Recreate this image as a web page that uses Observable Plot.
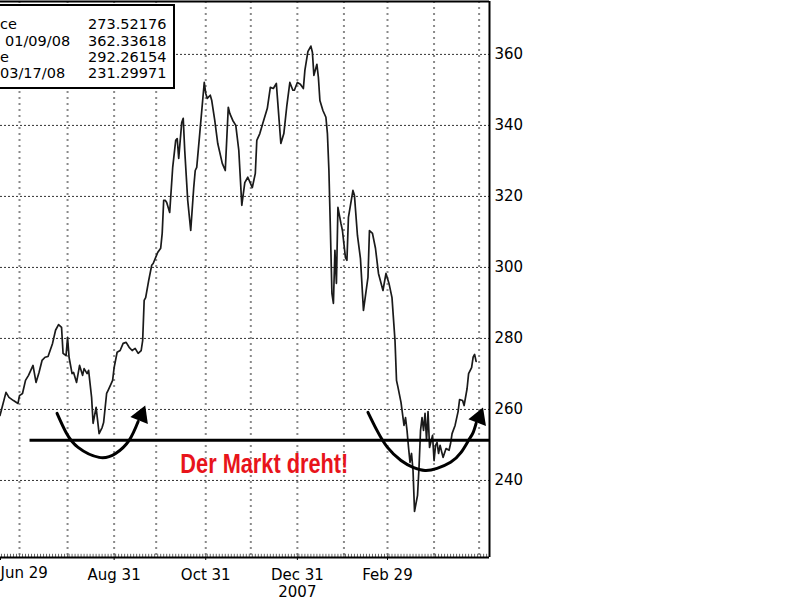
<!DOCTYPE html>
<html><head><meta charset="utf-8">
<script src="https://cdn.jsdelivr.net/npm/d3@7"></script>
<script src="https://cdn.jsdelivr.net/npm/@observablehq/plot@0.6"></script>
<style>
html,body{margin:0;padding:0;background:#fff;overflow:hidden;width:800px;height:600px;}
#chart{position:absolute;left:0;top:0;}
#legend{position:absolute;left:-6px;top:4px;width:181px;height:85px;box-sizing:border-box;border:2px solid #000;background:#fff;font-family:"DejaVu Sans",sans-serif;font-size:14.5px;color:#000;}
#legend span{position:absolute;line-height:1;white-space:nowrap;}
</style></head><body>
<div id="chart"></div>
<div id="legend"></div>
<script>
// ---- data ----
const dates = [
"2007-06-16","2007-06-20","2007-06-22","2007-06-25","2007-06-28","2007-06-29","2007-07-01","2007-07-03","2007-07-05","2007-07-08",
"2007-07-10","2007-07-12","2007-07-14","2007-07-16","2007-07-18","2007-07-21","2007-07-23","2007-07-25","2007-07-27","2007-07-28",
"2007-07-30","2007-07-31","2007-08-01","2007-08-03","2007-08-04","2007-08-06","2007-08-08","2007-08-10","2007-08-11","2007-08-13",
"2007-08-14","2007-08-16","2007-08-17","2007-08-19","2007-08-20","2007-08-21","2007-08-23","2007-08-24","2007-08-26","2007-08-27",
"2007-08-30","2007-08-31","2007-09-02","2007-09-04","2007-09-06","2007-09-08","2007-09-10","2007-09-12","2007-09-14","2007-09-16",
"2007-09-18","2007-09-19","2007-09-20","2007-09-21","2007-09-23","2007-09-25","2007-09-26","2007-09-29","2007-10-01","2007-10-02",
"2007-10-03","2007-10-04","2007-10-05","2007-10-07","2007-10-09","2007-10-11","2007-10-12","2007-10-13","2007-10-15","2007-10-16",
"2007-10-17","2007-10-19","2007-10-21","2007-10-23","2007-10-24","2007-10-25","2007-10-27","2007-10-30","2007-10-31","2007-11-01",
"2007-11-03","2007-11-04","2007-11-06","2007-11-08","2007-11-11","2007-11-13","2007-11-15","2007-11-16","2007-11-18","2007-11-20",
"2007-11-22","2007-11-24","2007-11-26","2007-11-28","2007-12-01","2007-12-03","2007-12-04","2007-12-06","2007-12-08","2007-12-11",
"2007-12-13","2007-12-15","2007-12-17","2007-12-18","2007-12-20","2007-12-22","2007-12-24","2007-12-26","2007-12-28","2007-12-29",
"2007-12-31","2008-01-02","2008-01-04","2008-01-05","2008-01-07","2008-01-09","2008-01-10","2008-01-11","2008-01-13","2008-01-14",
"2008-01-15","2008-01-17","2008-01-19","2008-01-20","2008-01-21","2008-01-22","2008-01-23","2008-01-24","2008-01-25","2008-01-26",
"2008-01-27","2008-01-29","2008-01-30","2008-02-01","2008-02-02","2008-02-03","2008-02-06","2008-02-07","2008-02-09","2008-02-11",
"2008-02-13","2008-02-16","2008-02-17","2008-02-19","2008-02-21","2008-02-23","2008-02-26","2008-02-28","2008-03-01","2008-03-03",
"2008-03-05","2008-03-06","2008-03-07","2008-03-09","2008-03-11","2008-03-12","2008-03-13","2008-03-14","2008-03-15","2008-03-16",
"2008-03-17","2008-03-18","2008-03-20","2008-03-21","2008-03-22","2008-03-23","2008-03-24","2008-03-25","2008-03-26","2008-03-27",
"2008-03-28","2008-03-30","2008-03-31","2008-04-01","2008-04-02","2008-04-03","2008-04-04","2008-04-06","2008-04-08","2008-04-10",
"2008-04-11","2008-04-12","2008-04-14","2008-04-16","2008-04-17","2008-04-19","2008-04-20","2008-04-22","2008-04-23","2008-04-25",
"2008-04-26","2008-04-27","2008-04-28"
];
const prices = [
258.3,264.8,263.4,262.5,261.7,263.9,264.5,268.2,269.6,272.4,
267.6,270.4,273.8,274.7,274.9,278.6,282.3,283.9,283.1,275.8,
275.2,280.3,274.7,270.1,270.4,267.6,272.4,269.6,271.5,270.1,
271.0,263.4,256.1,260.6,256.9,253.2,254.9,256.3,264.5,265.4,
268.2,271.8,276.1,276.6,278.6,278.9,277.5,276.6,277.2,275.8,
276.6,279.4,290.7,291.5,296.3,300.6,301.1,304.2,305.4,309.6,
318.9,318.9,318.3,315.5,328.2,335.8,336.3,330.7,340.8,342.0,
333.0,318.9,310.4,322.5,327.3,328.2,337.7,352.1,349.0,347.6,
348.5,347.0,341.4,334.9,329.3,327.3,345.1,343.4,341.4,340.0,
333.0,317.5,323.9,325.4,322.5,326.5,335.8,337.7,340.6,344.8,
350.7,350.4,351.8,346.2,334.9,337.7,345.6,352.1,349.9,349.9,
352.1,351.6,350.4,355.5,360.8,362.34,360.6,354.1,357.2,353.5,
347.0,344.2,342.3,337.7,327.3,310.4,292.7,289.9,304.8,295.5,
316.9,312.4,310.4,302.8,302.0,314.1,321.7,320.3,309.0,302.5,
287.9,297.2,310.4,309.6,305.4,298.3,293.5,298.3,295.5,291.5,
279.4,268.2,266.2,262.0,255.5,257.7,254.1,249.3,245.1,247.6,
242.8,231.3,235.8,243.7,254.1,257.7,254.1,258.9,251.3,259.4,
249.3,252.7,245.6,249.9,250.7,247.6,249.9,246.5,249.0,248.5,
250.4,253.2,255.5,259.4,262.8,262.5,261.1,265.9,270.1,271.8,
274.7,275.5,273.52
];
const yTicks = [240, 260, 280, 300, 320, 340, 360];
const monthTicks = ["2007-06-29","2007-07-31","2007-08-31","2007-09-28","2007-10-31","2007-11-30","2007-12-31","2008-01-31","2008-02-29","2008-03-31","2008-04-30"];
const labeledTicks = ["2007-08-31","2007-10-31","2007-12-31","2008-02-29"];
const edgeTick = ["2007-06-29"];
const legendLabels = ["ce", "01/09/08", "e", "03/17/08"];
const legendValues = ["273.52176", "362.33618", "292.26154", "231.29971"];
// annotations (data units)
const supportLevel = 251.3;
const supportStart = "2007-07-06";
const leftArcDates = ["2007-07-24","2007-07-30","2007-08-07","2007-08-21","2007-09-01","2007-09-10","2007-09-16"];
const leftArcValues = [258.9, 253.5, 249.3, 246.5, 247.6, 251.3, 256.6];
const rightArcDates = ["2008-02-16","2008-02-22","2008-02-29","2008-03-09","2008-03-17","2008-03-25","2008-04-02","2008-04-11","2008-04-18","2008-04-23","2008-04-26","2008-04-28"];
const rightArcValues = [259.2, 254.1, 249.3, 245.6, 243.7, 242.8, 243.4, 245.1, 247.9, 251.3, 253.5, 256.1];
const arrowDates = ["2007-09-18", "2008-04-30"];
const arrowValues = [258.3, 257.7];
const arrowAngles = [22, 21];
const annotationText = "Der Markt dreht!";
const annotationDate = "2007-12-09";
const annotationValue = 244.6;
const xStart = "2007-06-16T08:24Z";
const xEnd = "2008-05-06T22:00Z";
const yMin = 218.3, yMax = 374.9;

// ---- build ----
const parse = d3.utcParse("%Y-%m-%d");
const data = dates.map((d, i) => ({date: parse(d), price: prices[i]}));
const xDomain = [new Date(xStart), new Date(xEnd)];
const yDomain = [yMin, yMax];
const monthDates = monthTicks.map(parse);
const labelDates = labeledTicks.map(parse);
const minorTicks = d3.utcDay.every(2).range(xDomain[0], xDomain[1]);
const fmt = d3.utcFormat("%b %d");
const tickFmt = d => d.getUTCMonth() === 11 ? fmt(d) + "\n" + d.getUTCFullYear() : fmt(d);
const leftArc = leftArcDates.map((d, i) => ({date: parse(d), value: leftArcValues[i]}));
const rightArc = rightArcDates.map((d, i) => ({date: parse(d), value: rightArcValues[i]}));
const arrows = arrowDates.map((d, i) => ({date: parse(d), value: arrowValues[i], angle: arrowAngles[i]}));
const support = [{y: supportLevel, x1: parse(supportStart), x2: xDomain[1]}];

const chart = Plot.plot({
  width: 800, height: 600,
  marginLeft: 0, marginRight: 311, marginTop: 1, marginBottom: 43,
  style: {fontFamily: "DejaVu Sans, sans-serif", fontSize: "15px", background: "#fff", color: "#000"},
  x: {type: "utc", domain: xDomain},
  y: {domain: yDomain},
  marks: [
    Plot.ruleY(yTicks, {stroke: "#333", strokeDasharray: "2,2", strokeWidth: 1}),
    Plot.ruleX(monthDates, {stroke: "#8a8a8a", strokeDasharray: "2,4", strokeWidth: 2}),
    Plot.ruleX(minorTicks, {y1: yMin, y2: yMin + 0.9, stroke: "#666", strokeWidth: 1}),
    Plot.line(data, {x: "date", y: "price", stroke: "#1a1a1a", strokeWidth: 1.7}),
    Plot.ruleY(support, {y: "y", x1: "x1", x2: "x2", stroke: "#000", strokeWidth: 3}),
    Plot.line(leftArc, {x: "date", y: "value", curve: "natural", stroke: "#000", strokeWidth: 3}),
    Plot.line(rightArc, {x: "date", y: "value", curve: "natural", stroke: "#000", strokeWidth: 3}),
    Plot.dot(arrows, {x: "date", y: "value", rotate: "angle", symbol: "triangle", r: 7, fill: "#000"}),
    Plot.text([{date: parse(annotationDate), value: annotationValue, t: annotationText}],
      {x: "date", y: "value", text: "t", fill: "#e8141b", fontSize: 28, fontWeight: "bold",
       fontFamily: "Liberation Sans Narrow, Arial Narrow, Liberation Sans, sans-serif"}),
    Plot.ruleY([yMin, yMax], {stroke: "#000", strokeWidth: 2}),
    Plot.ruleX([xDomain[1]], {stroke: "#000", strokeWidth: 2}),
    Plot.axisY(yTicks, {anchor: "right", tickSize: 0, tickPadding: 5}),
    Plot.axisX(labelDates, {anchor: "bottom", tickSize: 3, tickPadding: 7, lineHeight: 1.15, tickFormat: tickFmt}),
    Plot.axisX(edgeTick.map(parse), {anchor: "bottom", tickSize: 3, tickPadding: 7, textAnchor: "start", dx: -19, tickFormat: tickFmt})
  ]
});
document.getElementById("chart").appendChild(chart);
// squeeze annotation text to condensed width
chart.querySelectorAll("text").forEach(t => {
  if (t.textContent === annotationText) {
    t.setAttribute("textLength", 168);
    t.setAttribute("lengthAdjust", "spacingAndGlyphs");
  }
});

// ---- legend box ----
const legend = document.getElementById("legend");
const rowTops = [11, 28, 44, 60];
const labelLefts = [4, 9, 4, 4];
legendLabels.forEach((lab, i) => {
  const s = document.createElement("span");
  s.textContent = lab; s.style.left = labelLefts[i] + "px"; s.style.top = rowTops[i] + "px";
  legend.appendChild(s);
  const v = document.createElement("span");
  v.textContent = legendValues[i]; v.style.left = "92px"; v.style.top = rowTops[i] + "px";
  legend.appendChild(v);
});
</script>
</body></html>
